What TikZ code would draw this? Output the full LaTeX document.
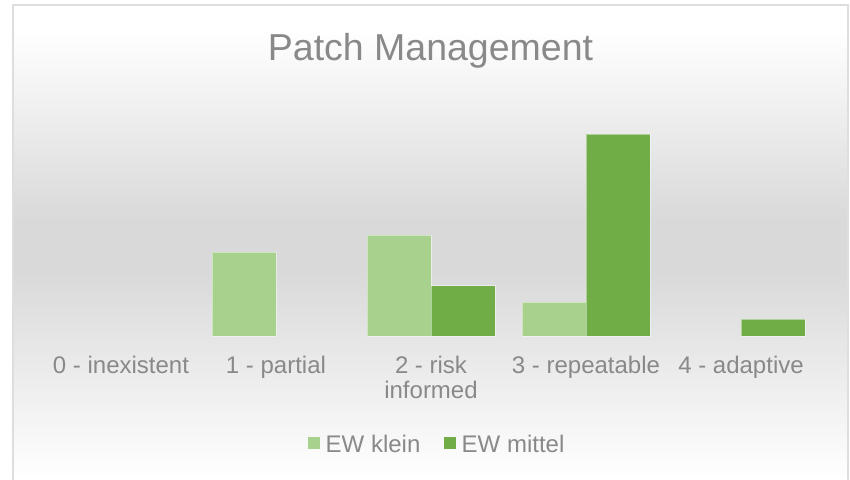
\documentclass[tikz,border=0pt]{standalone}
\usepackage{fontspec}
\setmainfont{Liberation Sans}
\definecolor{klein}{HTML}{A9D18E}
\definecolor{mittel}{HTML}{70AD47}
\definecolor{labelgray}{RGB}{137,137,137}
\definecolor{framegray}{HTML}{DEDEDE}
\definecolor{bgdark}{HTML}{D9D9D9}
% chart area background: white at top and bottom, grey band in the middle
\pgfdeclareverticalshading{chartbg}{100bp}{color(0bp)=(white); color(25.6bp)=(white); color(47.2bp)=(bgdark); color(52.5bp)=(bgdark); color(72.4bp)=(white); color(100bp)=(white)}
\tikzset{
  lightbar/.style={fill=klein, draw=white, draw opacity=0.45, line width=0.8pt},
  darkbar/.style={fill=mittel, draw=white, draw opacity=0.45, line width=0.8pt},
  catlabel/.style={anchor=base, inner sep=0pt, text=labelgray, font=\fontsize{24}{25}\selectfont},
  legendkey/.style={minimum size=12pt, inner sep=0pt},
  legendtext/.style={anchor=base west, inner sep=0pt, text=labelgray, font=\fontsize{24}{25}\selectfont},
}
\begin{document}
\begin{tikzpicture}[x=1pt,y=-1pt]
\useasboundingbox (0,0) rectangle (850,479);
\clip (0,0) rectangle (850,479);
% chart frame
\path[shading=chartbg, draw=framegray, line width=1.2pt] (13,5) rectangle (848,484);
% title
\node[anchor=base, inner sep=0pt, text=labelgray, font=\fontsize{37.5}{40}\selectfont] (title) at (430.5,60) {Patch Management};
% bars: category centres are 155 apart, bars 64 wide, one unit = 16.8
\foreach \c/\v in {1/5,2/6,3/2}
  \path[lightbar] ({121+155*\c-64},336) rectangle ({121+155*\c},{336-16.8*\v});
\foreach \c/\v in {2/3,3/12,4/1}
  \path[darkbar] ({121+155*\c},336) rectangle ({121+155*\c+64},{336-16.8*\v});
% category labels (a two-line label sits on the baseline of its last line)
\node[catlabel] (c0) at (121,373) {0 - inexistent};
\node[catlabel] (c1) at (276,373) {1 - partial};
\node[catlabel, align=center] (c2) at (431,398) {2 - risk\\informed};
\node[catlabel] (c3) at (586,373) {3 - repeatable};
\node[catlabel] (c4) at (741,373) {4 - adaptive};
% legend
\node[legendkey, fill=klein] (kkey) at (314,443) {};
\node[legendtext] (ktext) at (325.5,452) {EW klein};
\node[legendkey, fill=mittel] (mkey) at (449.5,443) {};
\node[legendtext] (mtext) at (461.5,452) {EW mittel};
\end{tikzpicture}
\end{document}
